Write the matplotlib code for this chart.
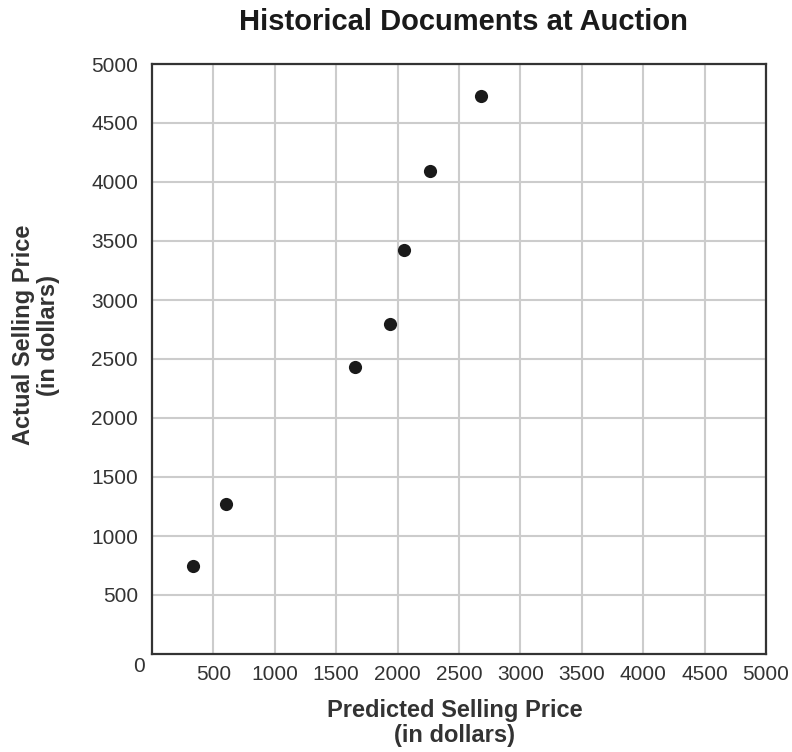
import matplotlib
matplotlib.use("Agg")
import matplotlib.pyplot as plt

predicted = [330, 600, 1650, 1940, 2050, 2260, 2680]
actual = [750, 1275, 2430, 2800, 3420, 4090, 4730]
ticks = [500, 1000, 1500, 2000, 2500, 3000, 3500, 4000, 4500, 5000]

plt.rcParams['font.family'] = ['Liberation Sans', 'DejaVu Sans']

W, H = 792, 752
fig = plt.figure(figsize=(W/100, H/100), dpi=100)
ax = fig.add_axes([152/W, 1-654/H, 614/W, 590/H])

ax.scatter(predicted, actual, s=90, color='#1a1a1a', zorder=3, linewidths=0)
ax.set_xlim(0, 5000)
ax.set_ylim(0, 5000)
ax.set_xticks(ticks)
ax.set_yticks(ticks)
ax.grid(True, color='#cccccc', linewidth=1.5, zorder=0)
ax.set_axisbelow(True)
ax.tick_params(length=0, labelsize=15, colors='#333333')
ax.tick_params(axis='y', pad=10)
ax.tick_params(axis='x', pad=8)
for s in ax.spines.values():
    s.set_color('#333333')
    s.set_linewidth(1.6)
    s.set_zorder(4)

ax.annotate('0', xy=(0, 0), xycoords='data', xytext=(-9, -9),
            textcoords='offset points', ha='center', va='center',
            fontsize=15, color='#333333')

fig.text(463/W, 1-22/H, 'Historical Documents at Auction', fontsize=21,
         fontweight='bold', color='#1a1a1a', ha='center', va='center')
fig.text(455/W, 1-723/H, 'Predicted Selling Price\n(in dollars)', fontsize=17,
         fontweight='bold', color='#333333', ha='center', va='center',
         multialignment='center', linespacing=1.15)
fig.text(36/W, 1-335/H, 'Actual Selling Price\n(in dollars)', fontsize=17,
         fontweight='bold', color='#333333', ha='center', va='center',
         rotation=90, multialignment='center', linespacing=1.15)

fig.savefig('out.png', dpi=100)
